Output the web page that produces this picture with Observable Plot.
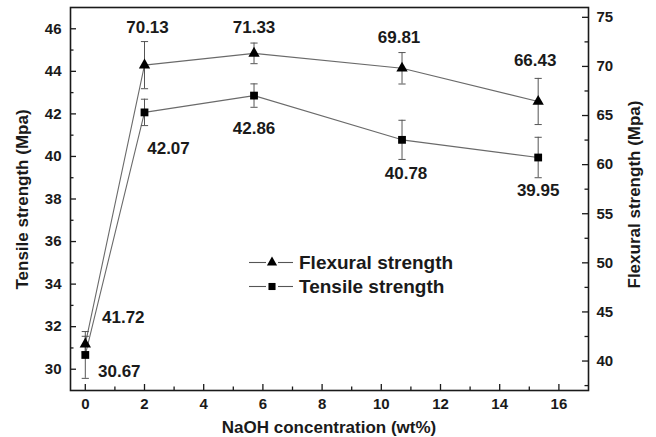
<!DOCTYPE html>
<html><head><meta charset="utf-8">
<script src="https://cdn.jsdelivr.net/npm/d3@7"></script>
<script src="https://cdn.jsdelivr.net/npm/@observablehq/plot@0.6"></script>
<style>
html,body{margin:0;padding:0;background:#fff;}
#chart svg{display:block;}
</style></head><body><div id="chart"></div>
<script>
// ---- data ----
const naoh = [0, 2, 5.7, 10.7, 15.3];
const tensile = [30.67, 42.07, 42.86, 40.78, 39.95];
const tensileErr = [1.1, 0.62, 0.55, 0.92, 0.95];
const flexural = [41.72, 70.13, 71.33, 69.81, 66.43];
const flexuralErr = [0.8, 2.4, 1.05, 1.6, 2.35];
const xTicks = [0, 2, 4, 6, 8, 10, 12, 14, 16];
const xMinor = [1, 3, 5, 7, 9, 11, 13, 15];
const leftTicks = [30, 32, 34, 36, 38, 40, 42, 44, 46];
const leftMinor = [31, 33, 35, 37, 39, 41, 43, 45];
const rightTicks = [40, 45, 50, 55, 60, 65, 70, 75];
const rightMinor = [37.5, 42.5, 47.5, 52.5, 57.5, 62.5, 67.5, 72.5];
const seriesNames = ["Flexural strength", "Tensile strength"];
const xTitle = "NaOH concentration (wt%)";
const leftTitle = "Tensile strength (Mpa)";
const rightTitle = "Flexural strength (Mpa)";

// ---- layout ----
const W = 656, H = 437, mL = 70, mR = 68, mT = 7, mB = 47;
const innerW = W - mL - mR, innerH = H - mT - mB;
const leftDomain = [29, 47], rightDomain = [37, 76];
const toLeft = d3.scaleLinear().domain(rightDomain).range(leftDomain);
const toRight = (v) => toLeft.invert(v);
const flexOffsets = [[38, -27], [3, -38], [0, -26], [-3, -31], [-3, -41]];
const tensOffsets = [[34, 17], [24, 36], [0, 33], [4, 34], [0, 33]];
const ink = "#1a1a1a", lineGray = "#6a6a6a", errGray = "#555";
const font = "'Liberation Sans', Arial, Helvetica, sans-serif";

const tens = naoh.map((x, i) => ({x, y: tensile[i], lo: tensile[i] - tensileErr[i], hi: tensile[i] + tensileErr[i], label: tensile[i].toFixed(2)}));
const flex = naoh.map((x, i) => ({x, y: toLeft(flexural[i]), lo: toLeft(flexural[i] - flexuralErr[i]), hi: toLeft(flexural[i] + flexuralErr[i]), label: flexural[i].toFixed(2)}));

const capSymbol = {draw(ctx, size) { const r = Math.sqrt(size / Math.PI); ctx.moveTo(-r, 0); ctx.lineTo(r, 0); }};

function errorMarks(data) {
  return [
    Plot.ruleX(data, {x: "x", y1: "lo", y2: "hi", stroke: errGray, strokeWidth: 1}),
    Plot.dot(data, {x: "x", y: "lo", symbol: capSymbol, r: 3.6, stroke: errGray, fill: "none", strokeWidth: 1}),
    Plot.dot(data, {x: "x", y: "hi", symbol: capSymbol, r: 3.6, stroke: errGray, fill: "none", strokeWidth: 1})
  ];
}
function labelMarks(data, offsets) {
  return data.map((d, i) => Plot.text([d], {x: "x", y: "y", text: "label", dx: offsets[i][0], dy: offsets[i][1], fontSize: 17, fontWeight: "bold", fill: ink}));
}

const plot = Plot.plot({
  width: W, height: H,
  marginLeft: mL, marginRight: mR, marginTop: mT, marginBottom: mB,
  style: {fontFamily: font, fontSize: "15px", fontWeight: "bold", color: ink, background: "#fff"},
  x: {domain: [-0.5, 17]},
  y: {domain: leftDomain},
  marks: [
    Plot.line(flex, {x: "x", y: "y", stroke: lineGray, strokeWidth: 1.1}),
    Plot.line(tens, {x: "x", y: "y", stroke: lineGray, strokeWidth: 1.1}),
    ...errorMarks(flex),
    ...errorMarks(tens),
    Plot.dot(flex, {x: "x", y: "y", symbol: "triangle", r: 4.2, fill: "#000", stroke: "none"}),
    Plot.dot(tens, {x: "x", y: "y", symbol: "square", r: 4.4, fill: "#000", stroke: "none"}),
    ...labelMarks(flex, flexOffsets),
    ...labelMarks(tens, tensOffsets),
    // inward ticks
    Plot.tickY(leftTicks, {y: d => d, insetRight: innerW - 6, stroke: ink, strokeWidth: 1.3}),
    Plot.tickY(leftMinor, {y: d => d, insetRight: innerW - 3.5, stroke: ink, strokeWidth: 1.3}),
    Plot.tickY(rightTicks.map(toLeft), {y: d => d, insetLeft: innerW - 6, stroke: ink, strokeWidth: 1.3}),
    Plot.tickY(rightMinor.map(toLeft), {y: d => d, insetLeft: innerW - 3.5, stroke: ink, strokeWidth: 1.3}),
    Plot.tickX(xTicks, {x: d => d, insetTop: innerH - 6, stroke: ink, strokeWidth: 1.3}),
    Plot.tickX(xMinor, {x: d => d, insetTop: innerH - 3.5, stroke: ink, strokeWidth: 1.3}),
    // axis labels
    Plot.axisY({anchor: "left", ticks: leftTicks, tickSize: 0, tickPadding: 9, label: null, fontSize: 15, fontWeight: "bold", fill: ink}),
    Plot.axisY({anchor: "right", ticks: rightTicks.map(toLeft), tickFormat: d => String(Math.round(toRight(d))), tickSize: 0, tickPadding: 8, label: null, fontSize: 15, fontWeight: "bold", fill: ink}),
    Plot.axisX({anchor: "bottom", ticks: xTicks, tickSize: 0, tickPadding: 8, label: null, fontSize: 15, fontWeight: "bold", fill: ink}),
    Plot.frame({stroke: ink, strokeWidth: 1.6})
  ]
});

document.getElementById("chart").appendChild(plot);

// ---- titles & legend ----
const svg = d3.select(plot);
const g = svg.append("g").attr("font-family", font).attr("font-weight", "bold").attr("fill", ink);
g.append("text").attr("x", mL + innerW / 2).attr("y", 427).attr("dy", "0.35em").attr("text-anchor", "middle").attr("font-size", 17).text(xTitle);
g.append("text").attr("transform", `translate(22,${mT + innerH / 2 + 1}) rotate(-90)`).attr("dy", "0.35em").attr("text-anchor", "middle").attr("font-size", 17).text(leftTitle);
g.append("text").attr("transform", `translate(634,${mT + innerH / 2 - 4}) rotate(-90)`).attr("dy", "0.35em").attr("text-anchor", "middle").attr("font-size", 17).text(rightTitle);

const legendRows = [
  {name: seriesNames[0], sym: d3.symbolTriangle, r: 3.8},
  {name: seriesNames[1], sym: d3.symbolSquare, r: 4.0}
];
legendRows.forEach((row, i) => {
  const y = 262.5 + i * 24;
  const lg = g.append("g");
  lg.append("line").attr("x1", 249).attr("x2", 266).attr("y1", y).attr("y2", y).attr("stroke", errGray).attr("stroke-width", 1.1);
  lg.append("line").attr("x1", 278).attr("x2", 293).attr("y1", y).attr("y2", y).attr("stroke", errGray).attr("stroke-width", 1.1);
  lg.append("path").attr("transform", `translate(272,${y})`).attr("d", d3.symbol(row.sym, row.r * row.r * Math.PI)()).attr("fill", "#000");
  lg.append("text").attr("x", 299).attr("y", y).attr("dy", "0.35em").attr("text-anchor", "start").attr("font-size", 19).text(row.name);
});
</script>
</body></html>
